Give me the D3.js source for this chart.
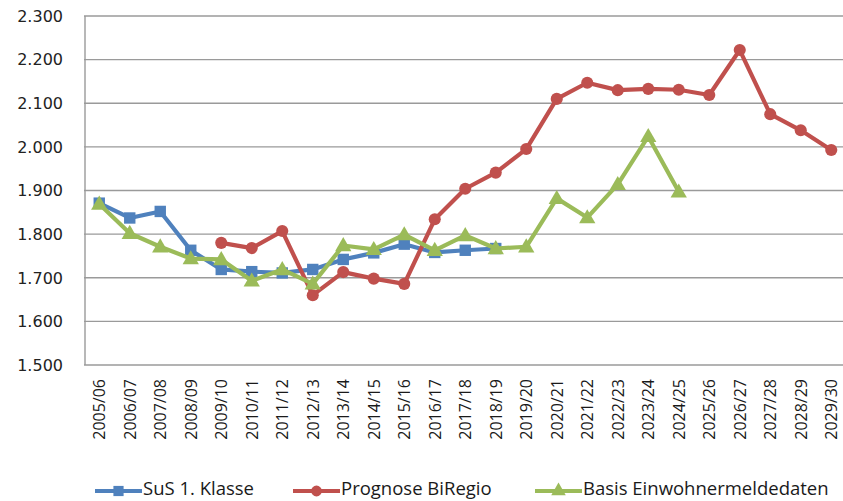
<!DOCTYPE html>
<html>
<head>
<meta charset="utf-8">
<script src="https://cdn.jsdelivr.net/npm/d3@7"></script>
<style>
  body { margin: 0; background: #fff; }
  svg { display: block; }
</style>
</head>
<body>
<svg id="chart" width="843" height="501"></svg>
<script>
// school years on the x axis
var years = ["2005/06", "2006/07", "2007/08", "2008/09", "2009/10", "2010/11", "2011/12",
    "2012/13", "2013/14", "2014/15", "2015/16", "2016/17", "2017/18", "2018/19", "2019/20",
    "2020/21", "2021/22", "2022/23", "2023/24", "2024/25", "2025/26", "2026/27", "2027/28",
    "2028/29", "2029/30"];

var susKlasse1 = [1871, 1837, 1852, 1763, 1719, 1714, 1711, 1719, 1742, 1757, 1777, 1758, 1763, 1767,
    null, null, null, null, null, null, null, null, null, null, null];

var prognoseBiRegio = [null, null, null, null, 1780, 1768, 1807, 1660, 1713, 1698, 1686, 1834, 1904, 1941,
    1995, 2110, 2147, 2130, 2133, 2131, 2119, 2222, 2075, 2038, 1993];

var basisEinwohner = [1869, 1802, 1771, 1744, 1742, 1693, 1719, 1686, 1774, 1765, 1799, 1763, 1797, 1767,
    1771, 1882, 1838, 1914, 2024, 1897, null, null, null, null, null];

var yTicks = [1500, 1600, 1700, 1800, 1900, 2000, 2100, 2200, 2300];

var seriesNames = ["SuS 1. Klasse", "Prognose BiRegio", "Basis Einwohnermeldedaten"];

var svg = d3.select("#chart");

var x = d3.scaleBand().domain(years).range([84, 846.5]).padding(0);
var y = d3.scaleLinear().domain([1500, 2300]).range([365, 16]);

function cx(i) { return x(years[i]) + x.bandwidth() / 2; }

// gridlines
svg.append("g")
    .selectAll("line")
    .data(yTicks)
    .enter()
    .append("line")
    .attr("x1", 84)
    .attr("x2", 843)
    .attr("y1", function(d) { return y(d); })
    .attr("y2", function(d) { return y(d); })
    .attr("stroke", "#9a9a9a")
    .attr("stroke-width", 1.4);

// left axis line
svg.append("line")
    .attr("x1", 85).attr("x2", 85)
    .attr("y1", y(2300)).attr("y2", y(1500))
    .attr("stroke", "#9a9a9a")
    .attr("stroke-width", 1.4);

// y tick labels
svg.append("g")
    .selectAll("text")
    .data(yTicks)
    .enter()
    .append("text")
    .attr("x", 63)
    .attr("y", function(d) { return y(d); })
    .attr("dy", "0.36em")
    .attr("text-anchor", "end")
    .style("font-family", "'DejaVu Sans', sans-serif")
    .style("font-size", "16px")
    .style("fill", "#222")
    .text(function(d) { return d3.format(",")(d).replace(",", "."); });

// x tick labels, rotated
svg.append("g")
    .selectAll("text")
    .data(years)
    .enter()
    .append("text")
    .attr("transform", function(d, i) {
        return "translate(" + cx(i) + ",379) rotate(-90)";
    })
    .attr("dy", "0.36em")
    .attr("text-anchor", "end")
    .style("font-family", "'Open Sans', sans-serif")
    .style("font-size", "16px")
    .style("font-weight", "500")
    .style("fill", "#1a1a1a")
    .text(function(d) { return d; });

var colors = ["#4f81bd", "#c0504d", "#9bbb59"];
var symbols = [d3.symbolSquare, d3.symbolCircle, d3.symbolTriangle];
var symbolSizes = [130, 115, 115];
var allSeries = [susKlasse1, prognoseBiRegio, basisEinwohner];

var line = d3.line()
    .defined(function(d) { return d != null; })
    .x(function(d, i) { return cx(i); })
    .y(function(d) { return y(d); });

allSeries.forEach(function(values, s) {
    var g = svg.append("g");
    g.append("path")
        .attr("d", line(values))
        .attr("fill", "none")
        .attr("stroke", colors[s])
        .attr("stroke-width", 4.2)
        .attr("stroke-linejoin", "round");

    g.selectAll("path.mark")
        .data(values.map(function(v, i) { return { v: v, i: i }; }).filter(function(d) { return d.v != null; }))
        .enter()
        .append("path")
        .attr("class", "mark")
        .attr("transform", function(d) {
            var off = s == 2 ? 1 : 0;
            return "translate(" + cx(d.i) + "," + (y(d.v) + off) + ")";
        })
        .attr("d", d3.symbol().type(symbols[s]).size(symbolSizes[s]))
        .attr("fill", colors[s]);
});

// legend
var legendX = [95, 293, 535];
var legend = svg.append("g");
seriesNames.forEach(function(name, s) {
    var lx = legendX[s];
    legend.append("line")
        .attr("x1", lx).attr("x2", lx + 47)
        .attr("y1", 491).attr("y2", 491)
        .attr("stroke", colors[s])
        .attr("stroke-width", 4.2);
    legend.append("path")
        .attr("transform", "translate(" + (lx + 23.5) + ",491)")
        .attr("d", d3.symbol().type(symbols[s]).size(symbolSizes[s] * 0.8))
        .attr("fill", colors[s]);
    legend.append("text")
        .attr("x", lx + 48)
        .attr("y", 489)
        .attr("dy", "0.35em")
        .style("font-family", "'Open Sans', sans-serif")
        .style("font-size", "18.5px")
        .style("fill", "#1a1a1a")
        .text(name);
});
</script>
</body>
</html>
